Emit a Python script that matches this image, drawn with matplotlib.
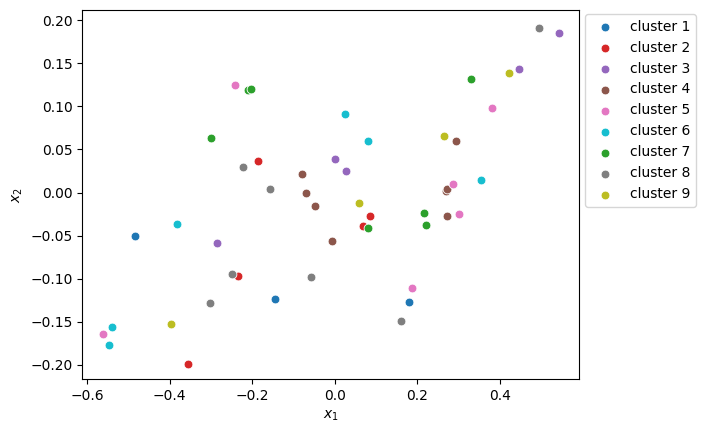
import matplotlib
matplotlib.use("Agg")
import matplotlib.pyplot as plt

# cluster points
c1_x = [-0.4834, -0.1448, 0.1816]
c1_y = [-0.0510, -0.1230, -0.1265]
c2_x = [-0.1865, -0.2346, -0.3558, 0.0859, 0.0680]
c2_y = [0.0360, -0.0963, -0.1984, -0.0278, -0.0391]
c3_x = [-0.2847, 0.5448, 0.4466, 0.0000, 0.0270]
c3_y = [-0.0580, 0.1856, 0.1438, 0.0394, 0.0255]
c4_x = [-0.0785, -0.0687, -0.0466, -0.0074, 0.2945, 0.2699, 0.2724, 0.2724]
c4_y = [0.0220, 0.0000, -0.0162, -0.0557, 0.0592, 0.0012, 0.0046, -0.0278]
c5_x = [-0.2405, -0.5620, 0.3828, 0.2871, 0.3018, 0.1865]
c5_y = [0.1253, -0.1647, 0.0986, 0.0104, -0.0244, -0.1102]
c6_x = [-0.3811, -0.5399, -0.5472, 0.0245, 0.0810, 0.3558]
c6_y = [-0.0360, -0.1555, -0.1771, 0.0916, 0.0592, 0.0151]
c7_x = [-0.2087, -0.2027, -0.2994, 0.3313, 0.0810, 0.2169, 0.2209]
c7_y = [0.1195, 0.1206, 0.0638, 0.1318, -0.0406, -0.0232, -0.0371]
c8_x = [-0.2209, -0.1553, -0.2486, -0.0564, -0.3009, 0.4957, 0.1620]
c8_y = [0.0293, 0.0046, -0.0951, -0.0975, -0.1276, 0.1914, -0.1485]
c9_x = [-0.3975, 0.4221, 0.2650, 0.0589]
c9_y = [-0.1531, 0.1392, 0.0661, -0.0116]

labels = ["cluster %d" % i for i in range(1, 10)]
colors = ["tab:blue", "tab:red", "tab:purple", "tab:brown", "tab:pink",
          "tab:cyan", "tab:green", "tab:gray", "tab:olive"]
xs = [c1_x, c2_x, c3_x, c4_x, c5_x, c6_x, c7_x, c8_x, c9_x]
ys = [c1_y, c2_y, c3_y, c4_y, c5_y, c6_y, c7_y, c8_y, c9_y]

fig = plt.figure(figsize=(7.05, 4.33), dpi=100)
ax = fig.add_axes([0.117, 0.125, 0.704, 0.851])

for x, y, c, lab in zip(xs, ys, colors, labels):
    ax.scatter(x, y, s=40, color=c, edgecolors="white", linewidths=0.6, label=lab)

ax.set_xlim(-0.611, 0.592)
ax.set_ylim(-0.2162, 0.2113)
ax.set_xlabel("$x_1$")
ax.set_ylabel("$x_2$")
ax.legend(loc="upper left", bbox_to_anchor=(1.0133, 0.99), borderaxespad=0)

fig.savefig("out.png", dpi=100)
